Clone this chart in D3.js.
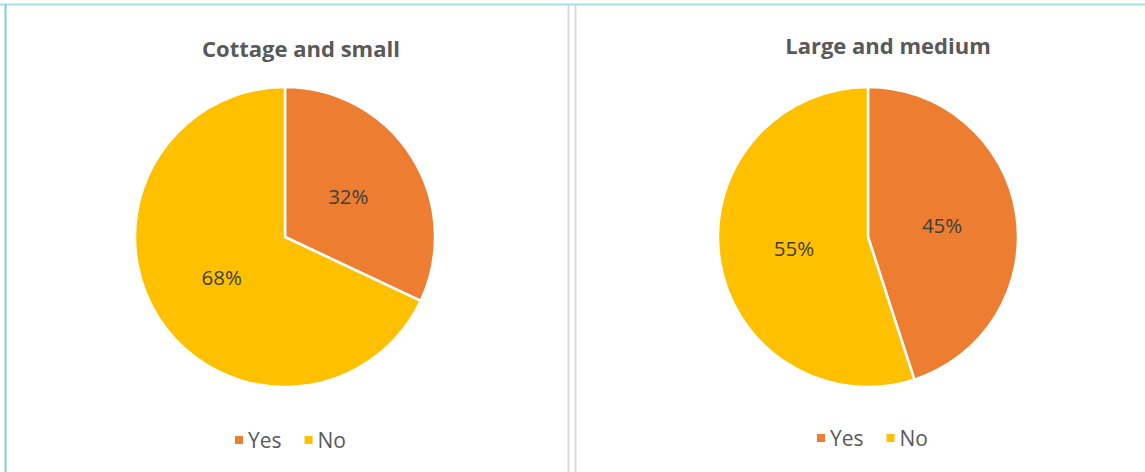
<!DOCTYPE html>
<html>
<head>
<meta charset="utf-8">
<script src="https://cdn.jsdelivr.net/npm/d3@7"></script>
<style>
  html, body { margin: 0; padding: 0; background: #fff; }
  svg { display: block; }
</style>
</head>
<body>
<svg id="chart" width="1145" height="472"></svg>
<script>
// Survey answers by enterprise size
const categories = ["Yes", "No"];
const cottageSmall = [32, 68];
const largeMedium = [45, 55];
const chartTitles = ["Cottage and small", "Large and medium"];
const colors = ["#ED7D31", "#FFC000"];

const svg = d3.select("#chart");
const font = "'Open Sans', sans-serif";

// Frame lines
svg.append("line").attr("x1", 0).attr("x2", 1145).attr("y1", 4.5).attr("y2", 4.5)
  .attr("stroke", "#a9dfe4").attr("stroke-width", 2);
svg.append("line").attr("x1", 5.5).attr("x2", 5.5).attr("y1", 4).attr("y2", 472)
  .attr("stroke", "#80cfd6").attr("stroke-width", 2);
[568.5, 575.5].forEach(x => {
  svg.append("line").attr("x1", x).attr("x2", x).attr("y1", 5).attr("y2", 472)
    .attr("stroke", "#d9d9d9").attr("stroke-width", 2);
});

const panels = [
  { title: chartTitles[0], values: cottageSmall, cx: 285, titleX: 301, titleY: 57, legendX: 235, legendY: 440 },
  { title: chartTitles[1], values: largeMedium, cx: 868, titleX: 888, titleY: 54, legendX: 817, legendY: 438 }
];

const radius = 150;
const cy = 237;
const pie = d3.pie().sort(null).value(d => d);
const arc = d3.arc().innerRadius(0).outerRadius(radius);
const color = d3.scaleOrdinal().domain(categories).range(colors);

panels.forEach(p => {
  const g = svg.append("g");

  g.append("text")
    .attr("x", p.titleX).attr("y", p.titleY)
    .attr("text-anchor", "middle")
    .attr("font-family", font).attr("font-weight", "bold")
    .attr("font-size", 22).attr("fill", "#595959")
    .text(p.title);

  const pg = g.append("g").attr("transform", `translate(${p.cx},${cy})`);
  const arcs = pie(p.values);

  pg.selectAll("path").data(arcs).join("path")
    .attr("d", arc)
    .attr("fill", (d, i) => color(categories[i]))
    .attr("stroke", "#fff").attr("stroke-width", 2.5).attr("stroke-linejoin", "round");

  pg.selectAll("text").data(arcs).join("text")
    .attr("transform", d => `translate(${arc.centroid(d)})`)
    .attr("text-anchor", "middle").attr("dy", "0.36em")
    .attr("font-family", font).attr("font-size", 20.5).attr("fill", "#404040")
    .text(d => d.data + "%");

  // Legend
  const lg = g.append("g").attr("transform", `translate(${p.legendX},${p.legendY})`);
  let x = 0;
  categories.forEach((c, i) => {
    lg.append("rect").attr("x", x).attr("y", -4).attr("width", 8).attr("height", 8)
      .attr("fill", color(c));
    const t = lg.append("text").attr("x", x + 13).attr("y", 0).attr("dy", "0.36em")
      .attr("font-family", font).attr("font-size", 21).attr("fill", "#595959")
      .text(c);
    x += 13 + t.node().getComputedTextLength() + 23;
  });
});
</script>
</body>
</html>
